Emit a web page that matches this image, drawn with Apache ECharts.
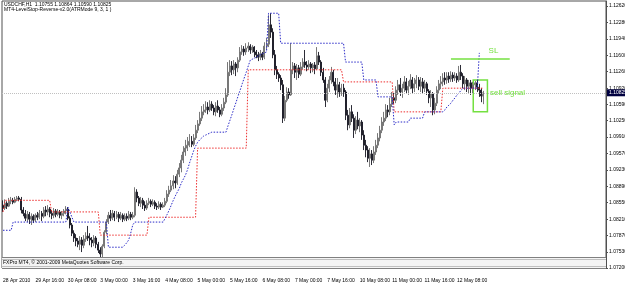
<!DOCTYPE html>
<html>
<head>
<meta charset="utf-8">
<script src="https://cdn.jsdelivr.net/npm/echarts@6/dist/echarts.min.js"></script>
<style>html,body{margin:0;padding:0;background:#fff;}#c{width:625px;height:286px;}</style>
</head>
<body>
<div id="c"></div>
<script>
const symbolInfo = 'USDCHF,H1  1.10755 1.10864 1.10590 1.10825';
const indicatorInfo = 'MT4-LevelStop-Reverse-v2.0(ATRMode 9, 3, 1 )';
const footerText = 'FXPro MT4, \u00a9 2001-2009 MetaQuotes Software Corp.';
const timeLabels = ['28 Apr 2010','29 Apr 16:00','30 Apr 08:00','3 May 00:00','3 May 16:00','4 May 08:00','5 May 00:00','5 May 16:00','6 May 08:00','7 May 00:00','7 May 16:00','10 May 08:00','11 May 00:00','11 May 16:00','12 May 08:00'];
const barsPerLabel = 16;
const totalSlots = 298;
const priceTicks = [1.07200,1.07530,1.07870,1.08210,1.08550,1.08890,1.09230,1.09570,1.09910,1.10250,1.10590,1.10920,1.11260,1.11600,1.11940,1.12280,1.12620];
const bidPrice = 1.10825;
// [open, close, low, high]
const ohlc = [
[1.0850,1.0844,1.0836,1.0860],[1.0844,1.0854,1.0840,1.0862],[1.0854,1.0848,1.0842,1.0858],[1.0848,1.0858,1.0846,1.0865],
[1.0858,1.0860,1.0852,1.0867],[1.0860,1.0856,1.0852,1.0865],[1.0856,1.0862,1.0854,1.0867],[1.0862,1.0865,1.0858,1.0869],
[1.0865,1.0862,1.0858,1.0869],[1.0862,1.0840,1.0833,1.0867],[1.0840,1.0833,1.0827,1.0846],[1.0833,1.0823,1.0817,1.0840],
[1.0823,1.0831,1.0815,1.0838],[1.0831,1.0821,1.0811,1.0836],[1.0821,1.0827,1.0809,1.0833],[1.0827,1.0819,1.0813,1.0831],
[1.0819,1.0829,1.0815,1.0833],[1.0829,1.0825,1.0819,1.0836],[1.0825,1.0833,1.0821,1.0840],[1.0833,1.0827,1.0817,1.0838],
[1.0827,1.0840,1.0823,1.0846],[1.0840,1.0836,1.0827,1.0848],[1.0836,1.0842,1.0829,1.0850],[1.0842,1.0833,1.0825,1.0846],
[1.0833,1.0829,1.0821,1.0840],[1.0829,1.0838,1.0823,1.0844],[1.0838,1.0831,1.0825,1.0842],[1.0831,1.0836,1.0827,1.0842],
[1.0836,1.0829,1.0823,1.0840],[1.0829,1.0833,1.0821,1.0838],[1.0833,1.0838,1.0827,1.0842],[1.0838,1.0842,1.0831,1.0848],
[1.0842,1.0823,1.0819,1.0846],[1.0823,1.0809,1.0802,1.0827],[1.0809,1.0792,1.0786,1.0813],[1.0792,1.0782,1.0774,1.0798],
[1.0782,1.0776,1.0765,1.0790],[1.0776,1.0769,1.0763,1.0782],[1.0769,1.0778,1.0757,1.0786],[1.0778,1.0767,1.0753,1.0784],
[1.0767,1.0780,1.0761,1.0788],[1.0780,1.0786,1.0774,1.0794],[1.0786,1.0782,1.0776,1.0807],[1.0782,1.0778,1.0767,1.0792],
[1.0778,1.0772,1.0763,1.0784],[1.0772,1.0782,1.0765,1.0788],[1.0782,1.0769,1.0761,1.0786],[1.0769,1.0757,1.0751,1.0774],
[1.0757,1.0749,1.0736,1.0763],[1.0749,1.0765,1.0742,1.0769],[1.0765,1.0794,1.0761,1.0798],[1.0794,1.0815,1.0790,1.0821],
[1.0815,1.0829,1.0811,1.0836],[1.0829,1.0823,1.0817,1.0840],[1.0823,1.0833,1.0819,1.0840],[1.0833,1.0825,1.0817,1.0838],
[1.0825,1.0831,1.0821,1.0838],[1.0831,1.0823,1.0815,1.0836],[1.0823,1.0829,1.0819,1.0836],[1.0829,1.0821,1.0815,1.0833],
[1.0821,1.0827,1.0817,1.0833],[1.0827,1.0823,1.0817,1.0833],[1.0823,1.0831,1.0819,1.0838],[1.0831,1.0825,1.0819,1.0836],
[1.0825,1.0829,1.0821,1.0836],[1.0829,1.0877,1.0825,1.0887],[1.0877,1.0865,1.0856,1.0883],[1.0865,1.0854,1.0848,1.0869],
[1.0854,1.0860,1.0846,1.0867],[1.0860,1.0850,1.0842,1.0865],[1.0850,1.0844,1.0838,1.0858],[1.0844,1.0854,1.0840,1.0860],
[1.0854,1.0858,1.0850,1.0865],[1.0858,1.0852,1.0846,1.0862],[1.0852,1.0856,1.0848,1.0862],[1.0856,1.0848,1.0842,1.0860],
[1.0848,1.0846,1.0840,1.0854],[1.0846,1.0852,1.0842,1.0858],[1.0852,1.0846,1.0840,1.0856],[1.0846,1.0850,1.0844,1.0856],
[1.0850,1.0858,1.0846,1.0865],[1.0858,1.0873,1.0854,1.0881],[1.0873,1.0881,1.0867,1.0890],[1.0881,1.0890,1.0877,1.0902],
[1.0890,1.0900,1.0883,1.0912],[1.0900,1.0896,1.0885,1.0910],[1.0896,1.0914,1.0892,1.0923],[1.0914,1.0927,1.0908,1.0937],
[1.0927,1.0943,1.0918,1.0954],[1.0943,1.0960,1.0937,1.0972],[1.0960,1.0968,1.0952,1.0985],[1.0968,1.0974,1.0962,1.0991],
[1.0974,1.0982,1.0970,1.0997],[1.0982,1.0976,1.0970,1.0993],[1.0976,1.0989,1.0972,1.0997],[1.0989,1.1005,1.0985,1.1016],
[1.1005,1.1018,1.0999,1.1026],[1.1018,1.1030,1.1014,1.1043],[1.1030,1.1043,1.1024,1.1055],[1.1043,1.1047,1.1036,1.1059],
[1.1047,1.1053,1.1041,1.1065],[1.1053,1.1047,1.1038,1.1063],[1.1047,1.1059,1.1043,1.1067],[1.1059,1.1051,1.1045,1.1065],
[1.1051,1.1043,1.1036,1.1057],[1.1043,1.1055,1.1034,1.1063],[1.1055,1.1047,1.1041,1.1067],[1.1047,1.1038,1.1032,1.1053],
[1.1038,1.1051,1.1034,1.1059],[1.1051,1.1063,1.1045,1.1072],[1.1063,1.1078,1.1059,1.1092],[1.1078,1.1125,1.1074,1.1146],
[1.1125,1.1138,1.1117,1.1150],[1.1138,1.1130,1.1119,1.1148],[1.1130,1.1142,1.1121,1.1150],[1.1142,1.1134,1.1117,1.1146],
[1.1134,1.1150,1.1125,1.1156],[1.1150,1.1167,1.1146,1.1177],[1.1167,1.1173,1.1161,1.1181],[1.1173,1.1167,1.1159,1.1179],
[1.1167,1.1175,1.1161,1.1185],[1.1175,1.1179,1.1167,1.1187],[1.1179,1.1171,1.1163,1.1183],[1.1171,1.1177,1.1165,1.1181],
[1.1177,1.1167,1.1156,1.1179],[1.1167,1.1161,1.1154,1.1171],[1.1161,1.1156,1.1148,1.1167],[1.1156,1.1163,1.1150,1.1171],
[1.1163,1.1156,1.1150,1.1167],[1.1156,1.1179,1.1152,1.1187],[1.1179,1.1183,1.1171,1.1196],[1.1183,1.1223,1.1177,1.1243],
[1.1223,1.1208,1.1196,1.1247],[1.1208,1.1161,1.1154,1.1216],[1.1161,1.1130,1.1119,1.1171],[1.1130,1.1121,1.1111,1.1138],
[1.1121,1.1113,1.1105,1.1125],[1.1113,1.1099,1.1088,1.1119],[1.1099,1.1030,1.1020,1.1109],[1.1030,1.1067,1.1024,1.1076],
[1.1067,1.1084,1.1063,1.1094],[1.1084,1.1078,1.1070,1.1092],[1.1078,1.1130,1.1076,1.1185],[1.1130,1.1138,1.1121,1.1146],
[1.1138,1.1125,1.1113,1.1144],[1.1125,1.1134,1.1109,1.1142],[1.1134,1.1121,1.1113,1.1140],[1.1121,1.1136,1.1117,1.1146],
[1.1136,1.1146,1.1130,1.1154],[1.1146,1.1140,1.1134,1.1171],[1.1140,1.1136,1.1127,1.1148],[1.1136,1.1142,1.1130,1.1150],
[1.1142,1.1134,1.1123,1.1146],[1.1134,1.1140,1.1125,1.1144],[1.1140,1.1132,1.1121,1.1146],[1.1132,1.1159,1.1130,1.1177],
[1.1159,1.1146,1.1140,1.1167],[1.1146,1.1125,1.1117,1.1150],[1.1125,1.1109,1.1103,1.1134],[1.1109,1.1067,1.1053,1.1115],
[1.1067,1.1092,1.1063,1.1101],[1.1092,1.1109,1.1084,1.1117],[1.1109,1.1125,1.1101,1.1136],[1.1125,1.1105,1.1096,1.1130],
[1.1105,1.1088,1.1078,1.1113],[1.1088,1.1099,1.1072,1.1113],[1.1099,1.1084,1.1074,1.1105],[1.1084,1.1092,1.1076,1.1101],
[1.1092,1.1084,1.1074,1.1101],[1.1084,1.1036,1.1026,1.1088],[1.1036,1.1016,1.1005,1.1047],[1.1016,1.1043,1.1009,1.1051],
[1.1043,1.1030,1.1022,1.1057],[1.1030,1.1005,1.0989,1.1038],[1.1005,1.1026,1.0997,1.1034],[1.1026,1.1014,1.1007,1.1043],
[1.1014,1.1022,1.1001,1.1030],[1.1022,1.0995,1.0985,1.1026],[1.0995,1.0974,1.0964,1.1005],[1.0974,1.0964,1.0949,1.0985],
[1.0964,1.0947,1.0939,1.0972],[1.0947,1.0956,1.0929,1.0968],[1.0956,1.0943,1.0933,1.0964],[1.0943,1.0960,1.0937,1.0972],
[1.0960,1.0974,1.0954,1.0985],[1.0974,1.0989,1.0968,1.0999],[1.0989,1.1005,1.0982,1.1014],[1.1005,1.1022,1.0999,1.1032],
[1.1022,1.1030,1.1014,1.1043],[1.1030,1.1047,1.1024,1.1059],[1.1047,1.1043,1.1032,1.1057],[1.1043,1.1059,1.1036,1.1072],
[1.1059,1.1072,1.1053,1.1084],[1.1072,1.1067,1.1059,1.1082],[1.1067,1.1088,1.1061,1.1096],[1.1088,1.1099,1.1078,1.1109],
[1.1099,1.1084,1.1076,1.1113],[1.1084,1.1092,1.1072,1.1101],[1.1092,1.1105,1.1084,1.1117],[1.1105,1.1088,1.1080,1.1113],
[1.1088,1.1096,1.1078,1.1107],[1.1096,1.1109,1.1090,1.1121],[1.1109,1.1092,1.1082,1.1115],[1.1092,1.1101,1.1084,1.1113],
[1.1101,1.1109,1.1092,1.1119],[1.1109,1.1096,1.1088,1.1115],[1.1096,1.1105,1.1084,1.1115],[1.1105,1.1092,1.1082,1.1113],
[1.1092,1.1101,1.1084,1.1109],[1.1101,1.1086,1.1078,1.1105],[1.1086,1.1072,1.1061,1.1090],[1.1072,1.1080,1.1053,1.1088],
[1.1080,1.1047,1.1036,1.1084],[1.1047,1.1061,1.1038,1.1072],[1.1061,1.1088,1.1055,1.1096],[1.1088,1.1101,1.1082,1.1109],
[1.1101,1.1105,1.1090,1.1117],[1.1105,1.1113,1.1096,1.1123],[1.1113,1.1109,1.1099,1.1125],[1.1109,1.1117,1.1101,1.1125],
[1.1117,1.1111,1.1103,1.1125],[1.1111,1.1119,1.1105,1.1127],[1.1119,1.1113,1.1105,1.1125],[1.1113,1.1117,1.1107,1.1125],
[1.1117,1.1109,1.1103,1.1123],[1.1109,1.1125,1.1105,1.1138],[1.1125,1.1117,1.1109,1.1140],[1.1117,1.1101,1.1092,1.1123],
[1.1101,1.1109,1.1088,1.1117],[1.1109,1.1096,1.1084,1.1113],[1.1096,1.1103,1.1080,1.1109],[1.1103,1.1092,1.1078,1.1109],
[1.1092,1.1099,1.1082,1.1105],[1.1099,1.1103,1.1088,1.1107],[1.1103,1.1094,1.1084,1.1109],[1.1094,1.1088,1.1074,1.1101],
[1.1088,1.1076,1.1063,1.1092],[1.10755,1.10825,1.10590,1.10864]
];
// LevelStop-Reverse lines: [barIndex, level]
const redStop = [[0,1.0836],[1,1.0860],[23,1.0860],[24,1.0836],[47,1.0836],[48,1.0788],[71,1.0788],[72,1.0825],[95,1.0825],[96,1.0968],[120,1.0968],[121,1.1130],[167,1.1130],[168,1.1105],[192,1.1105],[193,1.1043],[216,1.1043],[217,1.1092],[237,1.1092]];
const blueStop = [[0,1.0798],[4,1.0798],[5,1.0815],[31,1.0815],[32,1.0846],[33,1.0836],[34,1.0825],[35,1.0815],[51,1.0815],[52,1.0763],[59,1.0763],[60,1.0767],[61,1.0772],[62,1.0778],[63,1.0792],[64,1.0809],[65,1.0815],[79,1.0815],[80,1.0823],[81,1.0831],[82,1.0840],[83,1.0850],[84,1.0860],[85,1.0869],[86,1.0877],[87,1.0885],[88,1.0896],[89,1.0904],[90,1.0912],[91,1.0923],[92,1.0937],[93,1.0949],[94,1.0962],[95,1.0972],[96,1.0980],[97,1.0985],[98,1.0989],[99,1.0993],[100,1.0995],[101,1.0997],[102,1.0999],[103,1.1001],[110,1.1001],[111,1.1014],[112,1.1026],[113,1.1038],[114,1.1051],[115,1.1063],[116,1.1076],[117,1.1088],[118,1.1101],[119,1.1113],[120,1.1125],[121,1.1138],[122,1.1150],[123,1.1152],[124,1.1154],[125,1.1156],[126,1.1159],[127,1.1161],[128,1.1163],[129,1.1165],[130,1.1167],[131,1.1247],[136,1.1247],[137,1.1185],[168,1.1185],[169,1.1146],[177,1.1146],[178,1.1109],[184,1.1109],[185,1.1074],[192,1.1074],[193,1.1016],[194,1.1022],[200,1.1022],[201,1.1030],[207,1.1030],[208,1.1043],[217,1.1043],[218,1.1047],[219,1.1053],[220,1.1057],[221,1.1061],[222,1.1067],[223,1.1072],[224,1.1078],[225,1.1082],[226,1.1088],[227,1.1092],[234,1.1092],[235,1.1165]];
// annotations
const slLevel = 1.1152, slFrom = 221, slTo = 250;
const slTextAt = [242, 1.1169];
const signalBox = [[232, 1.1109], [239, 1.1043]];
const signalTextAt = [240, 1.1082];

const categories = [];
for (let i = 0; i < totalSlots; i++) {
  const k = i / barsPerLabel;
  categories.push(Number.isInteger(k) && k < timeLabels.length ? timeLabels[k] : String(i));
}
const isLabelIdx = (i) => i % barsPerLabel === 0 && i / barsPerLabel < timeLabels.length;

const FONT = 'Liberation Sans';
const green = '#74e040';
const chart = echarts.init(document.getElementById('c'), null, {renderer: 'canvas'});
chart.setOption({
  animation: false,
  backgroundColor: '#ffffff',
  grid: {left: 2, right: 19, top: 1, bottom: 18, containLabel: false, outerBoundsMode: 'none', show: true, borderColor: '#505050', borderWidth: 1},
  xAxis: {
    type: 'category', data: categories, boundaryGap: true,
    axisLine: {show: false}, axisTick: {show: false}, splitLine: {show: false},
    axisLabel: {interval: (i) => isLabelIdx(i), align: 'left', margin: 10, fontSize: 5, fontFamily: FONT, color: '#000'}
  },
  yAxis: {
    type: 'value', position: 'right', min: 1.072, max: 1.127234, scale: true,
    splitLine: {show: false},
    axisLine: {show: true, lineStyle: {color: '#505050', width: 1}},
    axisTick: {show: true, length: 2, customValues: priceTicks, lineStyle: {color: '#505050'}},
    axisLabel: {customValues: priceTicks, formatter: (v) => v.toFixed(5), margin: 3, fontSize: 5, fontFamily: FONT, color: '#000'}
  },
  series: [
    {
      type: 'candlestick', data: ohlc, barWidth: 1.5,
      itemStyle: {color: '#e4e4e4', color0: '#151520', borderColor: '#6a6a6a', borderColor0: '#151520', borderWidth: 0.9},
      markLine: {
        silent: true, symbol: ['none', 'none'], animation: false, precision: 5,
        data: [
          {yAxis: bidPrice, lineStyle: {color: '#c0c0c0', type: [1, 1], width: 1},
           label: {show: true, position: 'end', formatter: bidPrice.toFixed(5), color: '#ffffff', backgroundColor: '#000040', fontSize: 5, fontFamily: FONT, padding: [1, 3, 1, 2], distance: 1}},
          [{coord: [slFrom, slLevel], lineStyle: {color: green, type: 'solid', width: 1.5}, label: {show: false}},
           {coord: [slTo, slLevel]}]
        ]
      },
      markArea: {
        silent: true,
        itemStyle: {color: 'rgba(0,0,0,0)', borderColor: green, borderWidth: 1.5},
        data: [[{coord: signalBox[0]}, {coord: signalBox[1]}]]
      },
      markPoint: {
        silent: true, symbol: 'circle', symbolSize: 1, itemStyle: {color: 'rgba(0,0,0,0)'},
        data: [
          {coord: signalTextAt, label: {show: true, position: 'right', distance: 0, formatter: 'sell signal', color: green, fontSize: 8, fontFamily: FONT}},
          {coord: slTextAt, label: {show: true, position: 'inside', formatter: 'SL', color: green, fontSize: 8, fontFamily: FONT}}
        ]
      }
    },
    {type: 'line', data: redStop, symbol: 'none', silent: true, lineStyle: {color: '#ee3030', width: 1, type: [1.5, 1.5]}, z: 3},
    {type: 'line', data: blueStop, symbol: 'none', silent: true, lineStyle: {color: '#2a2ac8', width: 1, type: [1.5, 1.5]}, z: 3}
  ],
  graphic: [
    {type: 'text', left: 4, top: 2, z: 100, style: {text: symbolInfo, font: '5px "Liberation Sans"', fill: '#000'}},
    {type: 'text', left: 4, top: 7, z: 100, style: {text: indicatorInfo, font: '5px "Liberation Sans"', fill: '#000'}},
    {type: 'rect', z: 100, shape: {x: 2, y: 257, width: 604, height: 12}, style: {fill: '#f4f4f4', stroke: null}},
    {type: 'line', z: 101, shape: {x1: 2, y1: 257.5, x2: 606, y2: 257.5}, style: {stroke: '#808080', lineWidth: 1}},
    {type: 'line', z: 101, shape: {x1: 2, y1: 259.5, x2: 606, y2: 259.5}, style: {stroke: '#c0c0c0', lineWidth: 1}},
    {type: 'line', z: 101, shape: {x1: 2, y1: 266.5, x2: 606, y2: 266.5}, style: {stroke: '#c0c0c0', lineWidth: 1}},
    {type: 'line', z: 101, shape: {x1: 2, y1: 268.5, x2: 606, y2: 268.5}, style: {stroke: '#808080', lineWidth: 1}},
    {type: 'text', left: 3, top: 260.5, z: 102, style: {text: footerText, font: '5px "Liberation Sans"', fill: '#000'}}
  ]
});
</script>
</body>
</html>
